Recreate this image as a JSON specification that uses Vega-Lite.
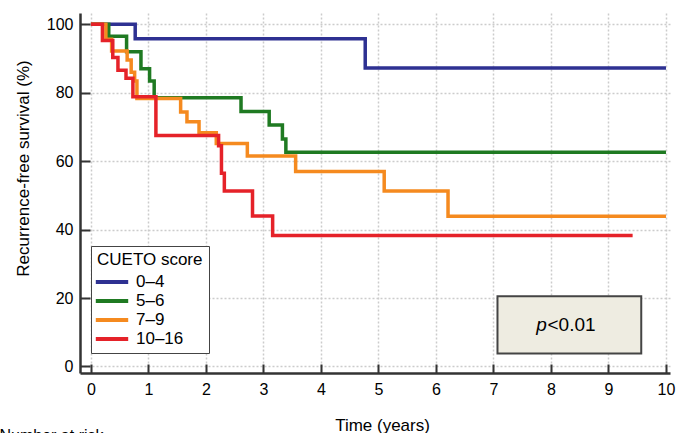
{
  "$schema": "https://vega.github.io/schema/vega-lite/v6.json",
  "width": 590,
  "height": 360,
  "autosize": {"type": "none"},
  "padding": {"left": 80, "top": 13, "right": 8, "bottom": 60},
  "background": "white",
  "config": {
    "font": "Liberation Sans",
    "view": {"stroke": null},
    "axis": {
      "domainColor": "#333333",
      "domainWidth": 2.5,
      "tickColor": "#333333",
      "tickWidth": 2,
      "gridColor": "#cccccc",
      "gridDash": [2, 2],
      "gridWidth": 1.5,
      "labelColor": "black",
      "labelFontSize": 16,
      "titleColor": "black",
      "titleFontWeight": "normal",
      "titleFontSize": 17
    },
    "legend": {
      "titleFontSize": 17,
      "labelFontSize": 17,
      "titleFontWeight": "normal",
      "titleColor": "black",
      "labelColor": "black",
      "padding": 6,
      "strokeColor": "#444444",
      "fillColor": "white",
      "symbolType": "M-1.8,0H1.8",
      "symbolSize": 324,
      "symbolStrokeWidth": 4,
      "symbolOffset": 4,
      "labelOffset": 13,
      "titlePadding": 2,
      "rowPadding": -1
    }
  },
  "datasets": {
    "km": [
      {"group": "0–4", "time": 0, "survival": 100},
      {"group": "0–4", "time": 0.77, "survival": 95.8},
      {"group": "0–4", "time": 4.77, "survival": 87.2},
      {"group": "0–4", "time": 10, "survival": 87.2},
      {"group": "5–6", "time": 0, "survival": 100},
      {"group": "5–6", "time": 0.31, "survival": 96.5},
      {"group": "5–6", "time": 0.62, "survival": 92},
      {"group": "5–6", "time": 0.87, "survival": 87},
      {"group": "5–6", "time": 1.02, "survival": 83.4},
      {"group": "5–6", "time": 1.1, "survival": 78.5},
      {"group": "5–6", "time": 2.61, "survival": 74.5},
      {"group": "5–6", "time": 3.1, "survival": 70.6},
      {"group": "5–6", "time": 3.33, "survival": 66.5},
      {"group": "5–6", "time": 3.39, "survival": 62.6},
      {"group": "5–6", "time": 10, "survival": 62.6},
      {"group": "7–9", "time": 0, "survival": 100},
      {"group": "7–9", "time": 0.26, "survival": 95.6},
      {"group": "7–9", "time": 0.36, "survival": 92.2},
      {"group": "7–9", "time": 0.63, "survival": 89.6},
      {"group": "7–9", "time": 0.7, "survival": 86},
      {"group": "7–9", "time": 0.76, "survival": 83.4},
      {"group": "7–9", "time": 0.8, "survival": 78.3},
      {"group": "7–9", "time": 1.56, "survival": 74.4},
      {"group": "7–9", "time": 1.67, "survival": 71.5},
      {"group": "7–9", "time": 1.88, "survival": 68.3},
      {"group": "7–9", "time": 2.18, "survival": 65.2},
      {"group": "7–9", "time": 2.72, "survival": 61.5},
      {"group": "7–9", "time": 3.56, "survival": 57},
      {"group": "7–9", "time": 5.1, "survival": 51.3},
      {"group": "7–9", "time": 6.21, "survival": 43.9},
      {"group": "7–9", "time": 10, "survival": 43.9},
      {"group": "10–16", "time": 0, "survival": 100},
      {"group": "10–16", "time": 0.2, "survival": 95.3},
      {"group": "10–16", "time": 0.38, "survival": 90.3},
      {"group": "10–16", "time": 0.47, "survival": 86.6},
      {"group": "10–16", "time": 0.61, "survival": 84.2},
      {"group": "10–16", "time": 0.73, "survival": 78.8},
      {"group": "10–16", "time": 1.13, "survival": 67.5},
      {"group": "10–16", "time": 2.22, "survival": 64.5},
      {"group": "10–16", "time": 2.27, "survival": 56.5},
      {"group": "10–16", "time": 2.32, "survival": 51.3},
      {"group": "10–16", "time": 2.81, "survival": 44},
      {"group": "10–16", "time": 3.16, "survival": 38.3},
      {"group": "10–16", "time": 9.42, "survival": 38.3}
    ],
    "note": [{"label": "p<0.01"}]
  },
  "layer": [
    {
      "data": {"name": "km"},
      "mark": {"type": "line", "interpolate": "step-after", "strokeWidth": 3.5, "clip": false},
      "encoding": {
        "x": {
          "field": "time",
          "type": "quantitative",
          "scale": {"domain": [-0.19, 10.07], "nice": false, "zero": false},
          "axis": {
            "title": "Time (years)",
            "values": [0, 1, 2, 3, 4, 5, 6, 7, 8, 9, 10],
            "format": "d",
            "tickSize": -9,
            "labelPadding": 17,
            "titleX": 302,
            "titleY": 52,
            "titleBaseline": "middle",
            "titleAnchor": "middle"
          }
        },
        "y": {
          "field": "survival",
          "type": "quantitative",
          "scale": {"domain": [-1.9, 103.3], "nice": false, "zero": false},
          "axis": {
            "title": "Recurrence-free survival (%)",
            "values": [0, 20, 40, 60, 80, 100],
            "tickSize": -10,
            "labelPadding": 17,
            "titleX": -57,
            "titleY": 155,
            "titleBaseline": "middle",
            "titleAngle": -90,
            "titleAnchor": "middle"
          }
        },
        "color": {
          "field": "group",
          "type": "nominal",
          "scale": {
            "domain": ["0–4", "5–6", "7–9", "10–16"],
            "range": ["#2e3192", "#1f7a22", "#f58a1f", "#e52229"]
          },
          "legend": {
            "title": "CUETO score",
            "orient": "none",
            "legendX": 11,
            "legendY": 233
          }
        },
        "order": {"field": "time", "type": "quantitative"}
      }
    },
    {
      "data": {"name": "note"},
      "mark": {"type": "rect", "fill": "#eeece1", "stroke": "#444444", "strokeWidth": 2},
      "encoding": {
        "x": {"datum": 7.07, "type": "quantitative"},
        "x2": {"datum": 9.57},
        "y": {"datum": 20.5, "type": "quantitative"},
        "y2": {"datum": 3.8}
      }
    },
    {
      "data": {"name": "note"},
      "mark": {"type": "text", "align": "right", "baseline": "middle", "fontSize": 19, "fontStyle": "italic", "color": "black"},
      "encoding": {
        "x": {"datum": 7.93, "type": "quantitative"},
        "y": {"datum": 12, "type": "quantitative"},
        "text": {"value": "p"}
      }
    },
    {
      "data": {"name": "note"},
      "mark": {"type": "text", "align": "left", "baseline": "middle", "fontSize": 19, "color": "black"},
      "encoding": {
        "x": {"datum": 7.94, "type": "quantitative"},
        "y": {"datum": 12, "type": "quantitative"},
        "text": {"value": "<0.01"}
      }
    },
    {
      "data": {"name": "note"},
      "mark": {"type": "text", "align": "left", "baseline": "middle", "fontSize": 16, "color": "black", "clip": false},
      "encoding": {
        "x": {"datum": -1.59, "type": "quantitative"},
        "y": {"datum": -20.2, "type": "quantitative"},
        "text": {"value": "Number at risk"}
      }
    }
  ]
}
